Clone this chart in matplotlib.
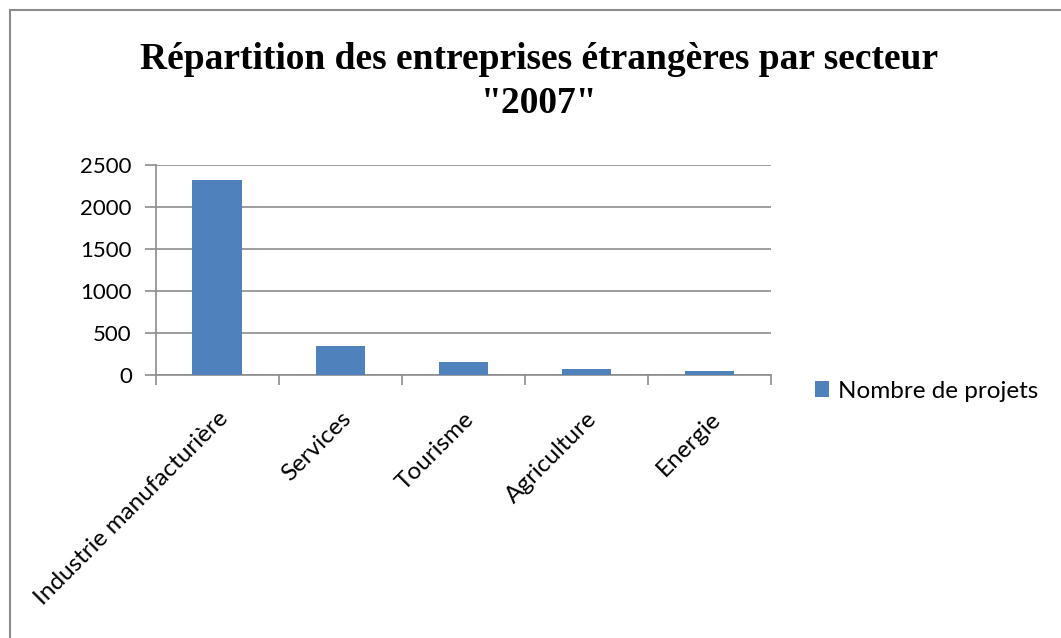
import matplotlib
matplotlib.use("Agg")
import matplotlib.pyplot as plt
from matplotlib.patches import Rectangle

secteurs = ["Industrie manufacturière", "Services", "Tourisme", "Agriculture", "Energie"]
projets = [2315, 343, 150, 68, 48]
y_ticks = [0, 500, 1000, 1500, 2000, 2500]
serie = "Nombre de projets"

bar_color = "#4F81BD"
grid_color = "#8C8C8C"
label_font = "Lato"

fig = plt.figure(figsize=(10.61, 6.38), dpi=100)
fig.patch.set_facecolor("white")

# outer chart border (Excel style)
fig.patches.append(Rectangle((10 / 1061, -0.05), 1.2, 1 - 10.5 / 638 + 0.05,
                             transform=fig.transFigure, fill=False,
                             edgecolor="#8C8C8C", linewidth=1.5))

ax = fig.add_axes([155.5 / 1061, 1 - 374.7 / 638, (771 - 155.5) / 1061, (374.7 - 164.7) / 638])
x = range(len(secteurs))
ax.bar(x, projets, width=0.4, color=bar_color, label=serie, zorder=3)

ax.set_xlim(-0.5, len(secteurs) - 0.5)
ax.set_ylim(0, 2500)
ax.set_yticks(y_ticks)
ax.set_yticklabels([str(v) for v in y_ticks], fontsize=16, fontfamily=label_font)
ax.yaxis.grid(True, color=grid_color, linewidth=1.2, zorder=0)
ax.tick_params(axis="y", length=8, width=1.2, color=grid_color, pad=9)

ax.set_xticks(list(x))
ax.set_xticklabels(secteurs, rotation=45, ha="right", va="top",
                   rotation_mode="anchor", fontsize=17.5, fontfamily=label_font)
ax.tick_params(axis="x", which="major", length=0, pad=24)
ax.set_xticks([i - 0.5 for i in range(len(secteurs) + 1)], minor=True)
ax.tick_params(axis="x", which="minor", length=7, width=1.2, color=grid_color)

for s in ["top", "right"]:
    ax.spines[s].set_visible(False)
for s in ["left", "bottom"]:
    ax.spines[s].set_color(grid_color)
    ax.spines[s].set_linewidth(1.2)

fig.text(0.508, 0.907, "Répartition des entreprises étrangères par secteur",
         ha="center", va="center", fontsize=27, fontweight="bold",
         fontfamily="Liberation Serif")
fig.text(0.508, 0.837, '"2007"', ha="center", va="center", fontsize=27,
         fontweight="bold", fontfamily="Liberation Serif")

leg = fig.legend(loc="center left", bbox_to_anchor=(793 / 1061, 1 - 391 / 638),
                 frameon=False, prop={"family": label_font, "size": 17.5},
                 handlelength=0.6, handleheight=0.6, handletextpad=0.35)

fig.savefig("out.png", dpi=100)
